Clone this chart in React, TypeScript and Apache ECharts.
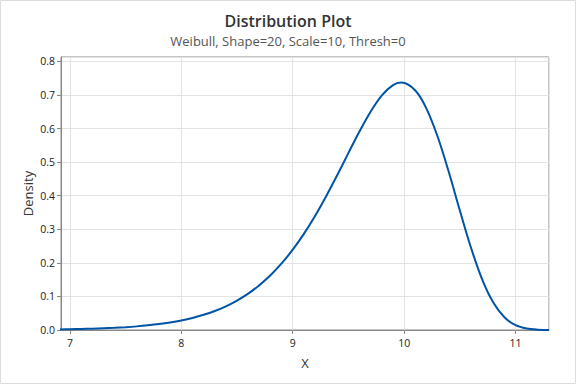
import React, { useEffect, useRef } from "react";
import * as echarts from "echarts";

const xValues = [6.9, 7.0, 7.1, 7.2, 7.3, 7.4, 7.5, 7.6, 7.7, 7.8, 7.9, 8.0, 8.1, 8.2, 8.3, 8.4, 8.5, 8.6, 8.7, 8.8, 8.9, 9.0, 9.1, 9.2, 9.3, 9.4, 9.5, 9.6, 9.7, 9.8, 9.9, 9.975, 10.1, 10.2, 10.3, 10.4, 10.5, 10.6, 10.7, 10.8, 10.9, 11.0, 11.1, 11.2, 11.3];
const densityValues = [0.0017, 0.0023, 0.0030, 0.0039, 0.0051, 0.0065, 0.0084, 0.0108, 0.0139, 0.0177, 0.0225, 0.0285, 0.0360, 0.0452, 0.0566, 0.0706, 0.0877, 0.1084, 0.1334, 0.1631, 0.1982, 0.2393, 0.2864, 0.3397, 0.3986, 0.4618, 0.5274, 0.5919, 0.6509, 0.6988, 0.7293, 0.7367, 0.7132, 0.6594, 0.5762, 0.4711, 0.3558, 0.2449, 0.1509, 0.0817, 0.0379, 0.0146, 0.0046, 0.0011, 0.0002];
const xTickLabels = ["7", "8", "9", "10", "11"];
const yTickLabels = ["0.0", "0.1", "0.2", "0.3", "0.4", "0.5", "0.6", "0.7", "0.8"];

const FONT = "'Open Sans', 'Noto Sans', sans-serif";

export default function App() {
  const ref = useRef<HTMLDivElement>(null);
  useEffect(() => {
    if (!ref.current) return;
    const chart = echarts.init(ref.current, undefined, { renderer: "svg" });
    const points = xValues.map((x, i) => [x, densityValues[i]]);
    chart.setOption({
      animation: false,
      backgroundColor: "#ffffff",
      textStyle: { fontFamily: FONT },
      title: {
        text: "Distribution Plot",
        subtext: "Weibull, Shape=20, Scale=10, Thresh=0",
        left: "center",
        top: 8,
        itemGap: 5,
        textStyle: { fontFamily: FONT, fontSize: 16, fontWeight: 600, color: "#333333" },
        subtextStyle: { fontFamily: FONT, fontSize: 13, color: "#555555" },
      },
      graphic: [
        {
          type: "rect",
          shape: { x: 0.5, y: 0.5, width: 575, height: 383 },
          style: { fill: "none", stroke: "#dddddd", lineWidth: 1 },
          silent: true,
        },
      ],
      grid: {
        left: 61,
        right: 27,
        top: 57,
        bottom: 54,
        show: true,
        borderColor: "#888888",
        borderWidth: 1,
        backgroundColor: "transparent",
      },
      xAxis: {
        type: "value",
        min: 6.92,
        max: 11.3,
        splitNumber: 5,
        name: "X",
        nameLocation: "middle",
        nameGap: 26,
        nameMoveOverlap: false,
        nameTextStyle: { fontFamily: FONT, fontSize: 13, color: "#333333" },
        axisLine: { show: true, lineStyle: { color: "#888888" } },
        axisTick: { show: true, length: 4, lineStyle: { color: "#888888" } },
        axisLabel: {
          fontFamily: FONT,
          fontSize: 10.5,
          color: "#222222",
          margin: 7,
          showMinLabel: false,
          showMaxLabel: false,
          formatter: (v: number) => {
            const s = String(Math.round(v));
            return Math.abs(v - Math.round(v)) < 1e-6 && xTickLabels.includes(s) ? s : "";
          },
        },
        splitLine: { show: true, lineStyle: { color: "#e3e3e3", width: 1 } },
      },
      yAxis: {
        type: "value",
        min: 0,
        max: 0.813,
        interval: 0.1,
        name: "Density",
        nameLocation: "middle",
        nameGap: 27,
        nameMoveOverlap: false,
        nameTextStyle: { fontFamily: FONT, fontSize: 13, color: "#333333" },
        axisLine: { show: true, lineStyle: { color: "#888888" } },
        axisTick: { show: true, length: 4, lineStyle: { color: "#888888" } },
        axisLabel: {
          fontFamily: FONT,
          fontSize: 10.5,
          color: "#222222",
          margin: 6,
          showMaxLabel: false,
          formatter: (v: number) => {
            const s = v.toFixed(1);
            return Math.abs(v * 10 - Math.round(v * 10)) < 1e-6 && yTickLabels.includes(s) ? s : "";
          },
        },
        splitLine: { show: true, lineStyle: { color: "#e3e3e3", width: 1 } },
      },
      series: [
        {
          type: "line",
          data: points,
          smooth: 0.35,
          showSymbol: false,
          lineStyle: { color: "#0054a6", width: 2 },
          itemStyle: { color: "#0054a6" },
          clip: true,
        },
      ],
    });
    return () => chart.dispose();
  }, []);
  return (
    <div
      ref={ref}
      style={{ position: "fixed", left: 0, top: 0, width: 576, height: 384 }}
    />
  );
}
